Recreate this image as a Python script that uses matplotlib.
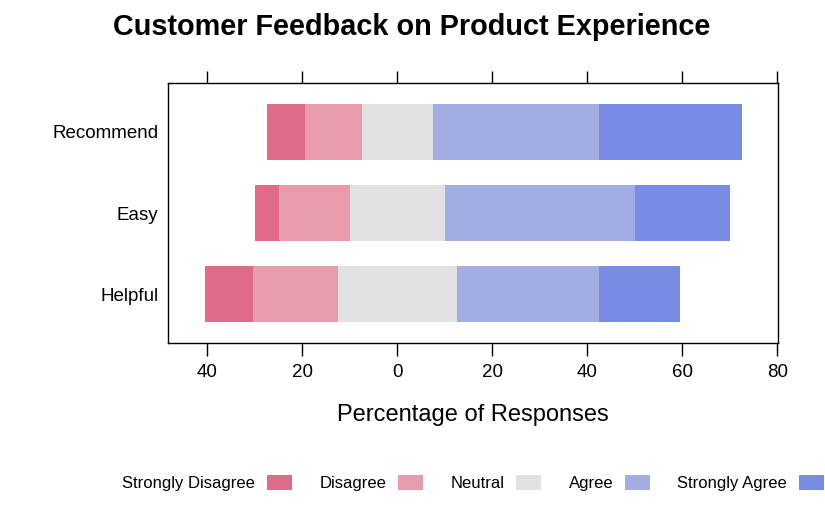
import matplotlib
matplotlib.use("Agg")
import matplotlib.pyplot as plt
import numpy as np
from matplotlib.patches import Patch

plt.rcParams["font.family"] = ["Liberation Sans", "DejaVu Sans"]

# 数据
questions = ["Helpful", "Easy", "Recommend"]
levels = ["Strongly Disagree", "Disagree", "Neutral", "Agree", "Strongly Agree"]
strongly_disagree = [10, 5, 8]
disagree = [18, 15, 12]
neutral = [25, 20, 15]
agree = [30, 40, 35]
strongly_agree = [17, 20, 30]
colors = ["#E16A86", "#E89BAA", "#E2E2E2", "#A3ADE3", "#788CE5"]
xticks = [-40, -20, 0, 20, 40, 60, 80]

fig = plt.figure(figsize=(8.25, 5.16), dpi=100)
ax = fig.add_axes([168 / 825, 1 - 342.7 / 516, 610.3 / 825, 259.4 / 516])

y = np.arange(1, len(questions) + 1)
sd = np.array(strongly_disagree, dtype=float)
d = np.array(disagree, dtype=float)
n = np.array(neutral, dtype=float)
a = np.array(agree, dtype=float)
sa = np.array(strongly_agree, dtype=float)

# 中性居中：左侧为负
left_start = -(n / 2 + d + sd)
segments = [sd, d, n, a, sa]
start = left_start.copy()
for seg, color in zip(segments, colors):
    ax.barh(y, seg, left=start, height=0.69, color=color, linewidth=0)
    start = start + seg

ax.set_xlim(-48.3, 80.2)
ax.set_ylim(0.4, 3.6)
ax.set_yticks(y)
ax.set_yticklabels(questions, fontsize=13.5)
ax.set_xticks(xticks)
ax.set_xticklabels([str(abs(t)) for t in xticks], fontsize=13.5)
ax.tick_params(axis="x", direction="out", length=9, width=1, pad=6,
               top=True, labeltop=False)
ax.tick_params(axis="y", length=0, pad=7)
for sp in ax.spines.values():
    sp.set_linewidth(1)
ax.set_xlabel("Percentage of Responses", fontsize=17, labelpad=17)

fig.suptitle("Customer Feedback on Product Experience", fontsize=20.8,
             fontweight="bold", x=412 / 825, y=1 - 13 / 516, va="top")

handles = [Patch(facecolor=c, edgecolor="none") for c in colors]
fig.legend(handles, levels, loc="center", ncol=5, frameon=False,
           markerfirst=False, fontsize=12, handlelength=1.5,
           handleheight=1.0, handletextpad=0.7, columnspacing=1.65,
           bbox_to_anchor=(473 / 825, 1 - 483 / 516))

fig.savefig("out.png", dpi=100)
